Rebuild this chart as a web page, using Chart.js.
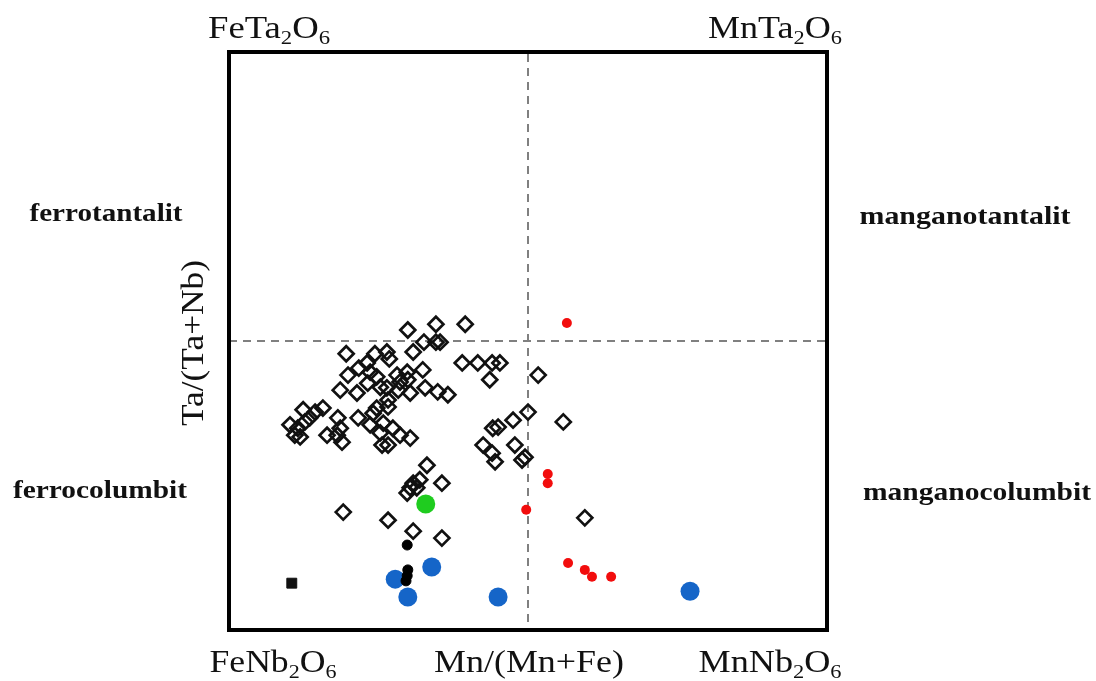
<!DOCTYPE html>
<html><head><meta charset="utf-8">
<script src="https://cdn.jsdelivr.net/npm/chart.js@4.4.1/dist/chart.umd.min.js"></script>
<style>html,body{margin:0;padding:0;background:#fff;}canvas{display:block;}</style>
</head><body>
<canvas id="c" width="1096" height="681"></canvas>
<script>
// Columbite-tantalite quadrilateral: x = Mn/(Mn+Fe), y = Ta/(Ta+Nb)
const diamondX = [0.299,0.346,0.395,0.326,0.346,0.308,0.196,0.244,0.264,0.268,0.231,0.217,0.199,0.236,0.247,0.281,0.298,0.324,0.299,0.232,0.253,0.264,0.286,0.283,0.186,0.214,0.303,0.328,0.349,0.366,0.266,0.266,0.247,0.157,0.144,0.124,0.102,0.115,0.127,0.135,0.182,0.216,0.241,0.236,0.258,0.274,0.110,0.119,0.164,0.181,0.186,0.189,0.253,0.256,0.266,0.286,0.303,0.390,0.353,0.416,0.440,0.453,0.436,0.517,0.500,0.475,0.559,0.441,0.450,0.425,0.478,0.440,0.445,0.495,0.490,0.331,0.319,0.308,0.303,0.298,0.314,0.356,0.191,0.266,0.308,0.356,0.595];
const diamondY = [0.519,0.529,0.529,0.498,0.498,0.481,0.478,0.478,0.481,0.469,0.462,0.453,0.441,0.446,0.438,0.441,0.446,0.450,0.433,0.427,0.420,0.419,0.429,0.415,0.415,0.410,0.410,0.419,0.412,0.407,0.398,0.386,0.384,0.384,0.377,0.381,0.355,0.349,0.360,0.367,0.367,0.367,0.375,0.355,0.358,0.349,0.337,0.334,0.337,0.337,0.349,0.325,0.341,0.320,0.320,0.337,0.332,0.462,0.498,0.462,0.462,0.462,0.433,0.441,0.377,0.363,0.360,0.349,0.351,0.320,0.320,0.306,0.291,0.299,0.294,0.285,0.260,0.254,0.246,0.237,0.246,0.254,0.204,0.190,0.171,0.159,0.194];
const redX = [0.565,0.533,0.533,0.497,0.567,0.595,0.607,0.639];
const redY = [0.531,0.270,0.254,0.208,0.116,0.104,0.092,0.092];
const blueX = [0.278,0.339,0.299,0.450,0.771];
const blueY = [0.088,0.109,0.057,0.057,0.067];
const greenX = [0.329];
const greenY = [0.218];
const blackX = [0.298,0.299,0.298,0.296];
const blackY = [0.147,0.104,0.094,0.085];
const squareX = [0.105];
const squareY = [0.081];

const cornerLabels = [
  {segs:[['FeTa',0],['2',1],['O',0],['6',1]], pos:'tl'},
  {segs:[['MnTa',0],['2',1],['O',0],['6',1]], pos:'tr'},
  {segs:[['FeNb',0],['2',1],['O',0],['6',1]], pos:'bl'},
  {segs:[['MnNb',0],['2',1],['O',0],['6',1]], pos:'br'}
];
const xTitle = 'Mn/(Mn+Fe)';
const yTitle = 'Ta/(Ta+Nb)';
const fieldNames = ['ferrotantalit','manganotantalit','ferrocolumbit','manganocolumbit'];

function pts(xs, ys){ return xs.map((x,i)=>({x:x, y:ys[i]})); }

const FONT = '"Liberation Serif", "Times New Roman", serif';
function drawLabel(ctx, segs, cx, by, size, bold, width, rot){
  const w = bold ? 'bold ' : '';
  let nat = 0;
  segs.forEach(s=>{ ctx.font = w + (s[1] ? size*0.62 : size) + 'px ' + FONT; nat += ctx.measureText(s[0]).width; });
  ctx.save();
  ctx.translate(cx, by);
  if (rot) ctx.rotate(-Math.PI/2);
  ctx.scale(width/nat, 1);
  ctx.fillStyle = '#111';
  ctx.textBaseline = 'alphabetic';
  ctx.textAlign = 'left';
  let x = -nat/2;
  segs.forEach(s=>{
    ctx.font = w + (s[1] ? size*0.62 : size) + 'px ' + FONT;
    ctx.fillText(s[0], x, s[1] ? size*0.2 : 0);
    x += ctx.measureText(s[0]).width;
  });
  ctx.restore();
}

const framePlugin = {
  id:'frame',
  beforeDatasetsDraw(chart){
    const ctx = chart.ctx, a = chart.chartArea;
    const xs = chart.scales.x, ys = chart.scales.y;
    const mx = xs.getPixelForValue(0.5), my = ys.getPixelForValue(0.5);
    ctx.save();
    ctx.strokeStyle = '#808080'; ctx.lineWidth = 2; ctx.setLineDash([8,6]);
    ctx.beginPath(); ctx.moveTo(mx, a.top+2); ctx.lineTo(mx, a.bottom); ctx.stroke();
    ctx.beginPath(); ctx.moveTo(a.left, my); ctx.lineTo(a.right, my); ctx.stroke();
    ctx.restore();
  },
  afterDatasetsDraw(chart){
    const ctx = chart.ctx, a = chart.chartArea;
    ctx.save();
    ctx.strokeStyle = '#000'; ctx.lineWidth = 4; ctx.setLineDash([]);
    ctx.strokeRect(a.left, a.top, a.right-a.left, a.bottom-a.top);
    ctx.restore();
  },
  afterDraw(chart){
    const ctx = chart.ctx, a = chart.chartArea;
    const L = a.left, R = a.right, T = a.top, B = a.bottom;
    // corner formulas
    drawLabel(ctx, cornerLabels[0].segs, L+40, T-14, 32, false, 122, false);
    drawLabel(ctx, cornerLabels[1].segs, R-52, T-14, 32, false, 134, false);
    drawLabel(ctx, cornerLabels[2].segs, L+44, B+42, 32, false, 127, false);
    drawLabel(ctx, cornerLabels[3].segs, R-57, B+42, 32, false, 143, false);
    // axis titles
    drawLabel(ctx, [[xTitle,0]], (L+R)/2+1, B+42, 32, false, 190, false);
    drawLabel(ctx, [[yTitle,0]], L-26, (T+B)/2+2, 32, false, 166, true);
    // field names
    drawLabel(ctx, [[fieldNames[0],0]], 106, 221, 25, true, 153, false);
    drawLabel(ctx, [[fieldNames[1],0]], 965, 224, 25, true, 211, false);
    drawLabel(ctx, [[fieldNames[2],0]], 100, 498, 25, true, 174, false);
    drawLabel(ctx, [[fieldNames[3],0]], 977, 500, 25, true, 228, false);
  }
};

new Chart(document.getElementById('c'), {
  type:'scatter',
  data:{ datasets:[
    {label:'black', data:pts(blackX, blackY), pointStyle:'circle', pointRadius:5, backgroundColor:'#000', borderColor:'#000', borderWidth:1},
    {label:'square', data:pts(squareX, squareY), pointStyle:'rect', pointRadius:7, backgroundColor:'#111', borderColor:'#111', borderWidth:1},
    {label:'red', data:pts(redX, redY), pointStyle:'circle', pointRadius:5, backgroundColor:'#f20d0d', borderColor:'#f20d0d', borderWidth:0},
    {label:'green', data:pts(greenX, greenY), pointStyle:'circle', pointRadius:9.5, backgroundColor:'#1fcc1f', borderColor:'#1fcc1f', borderWidth:0},
    {label:'blue', data:pts(blueX, blueY), pointStyle:'circle', pointRadius:9.5, backgroundColor:'#1565c8', borderColor:'#1565c8', borderWidth:0},
    {label:'diamonds', data:pts(diamondX, diamondY), pointStyle:'rectRot', pointRadius:7.5, backgroundColor:'rgba(255,255,255,0)', borderColor:'#111', borderWidth:2.7}
  ]},
  options:{
    responsive:false, animation:false, devicePixelRatio:1,
    layout:{padding:{left:229,right:269,top:52,bottom:51}},
    scales:{
      x:{type:'linear', min:0, max:1, display:false},
      y:{type:'linear', min:0, max:1, display:false}
    },
    plugins:{legend:{display:false}, tooltip:{enabled:false}},
    events:[]
  },
  plugins:[framePlugin]
});
</script>
</body></html>
